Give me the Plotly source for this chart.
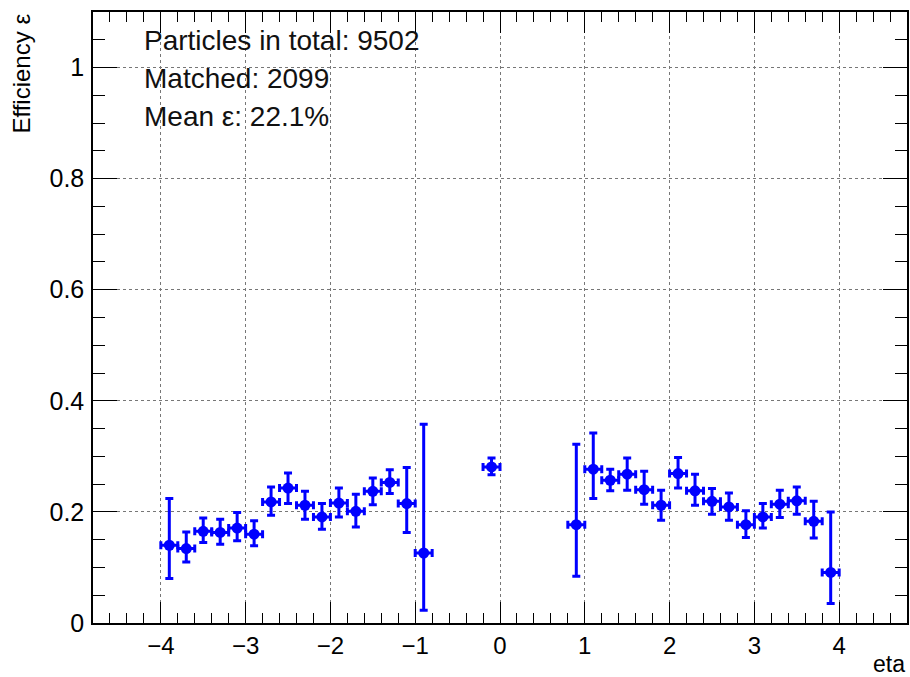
import plotly.graph_objects as go

# eta bin centres (bin width 0.2); empty bins left out
eta = [-3.9, -3.7, -3.5, -3.3, -3.1, -2.9, -2.7, -2.5, -2.3, -2.1,
       -1.9, -1.7, -1.5, -1.3, -1.1, -0.9, -0.1,
       0.9, 1.1, 1.3, 1.5, 1.7, 1.9, 2.1, 2.3, 2.5, 2.7,
       2.9, 3.1, 3.3, 3.5, 3.7, 3.9]
eff = [0.140, 0.134, 0.165, 0.163, 0.171, 0.160, 0.218, 0.243, 0.212, 0.191,
       0.216, 0.201, 0.237, 0.253, 0.215, 0.126, 0.281,
       0.177, 0.277, 0.257, 0.268, 0.240, 0.212, 0.269, 0.238, 0.219, 0.209,
       0.177, 0.191, 0.214, 0.220, 0.183, 0.091]
eff_hi = [0.224, 0.164, 0.189, 0.187, 0.199, 0.184, 0.245, 0.270, 0.237, 0.215,
          0.243, 0.232, 0.261, 0.276, 0.280, 0.358, 0.297,
          0.322, 0.342, 0.277, 0.297, 0.273, 0.239, 0.298, 0.268, 0.242, 0.234,
          0.202, 0.215, 0.239, 0.245, 0.219, 0.200]
eff_lo = [0.080, 0.110, 0.145, 0.142, 0.148, 0.139, 0.194, 0.215, 0.187, 0.169,
          0.191, 0.173, 0.213, 0.233, 0.163, 0.023, 0.267,
          0.084, 0.224, 0.238, 0.239, 0.214, 0.185, 0.243, 0.212, 0.196, 0.185,
          0.154, 0.171, 0.190, 0.196, 0.153, 0.035]
half_bin = [0.1] * len(eta)

info_lines = ["Particles in total: 9502", "Matched: 2099", "Mean \u03b5: 22.1%"]

FONT = "Liberation Sans, Arial, Helvetica, sans-serif"
BLUE = "#0000ff"

fig = go.Figure()
fig.add_trace(go.Scatter(
    x=eta, y=eff, mode="markers",
    marker=dict(color=BLUE, size=11, symbol="circle"),
    error_y=dict(type="data", symmetric=False,
                 array=[h - v for h, v in zip(eff_hi, eff)],
                 arrayminus=[v - l for v, l in zip(eff, eff_lo)],
                 color=BLUE, thickness=3, width=4),
    error_x=dict(type="data", array=half_bin, color=BLUE, thickness=3, width=4),
    showlegend=False,
))

axis_common = dict(
    showline=True, linecolor="black", linewidth=1.5, mirror="ticks",
    ticks="inside", tickcolor="black", tickwidth=1.2,
    showgrid=True, gridcolor="#777777", griddash="dot", gridwidth=1,
    zeroline=False,
)

fig.update_xaxes(
    range=[-4.8, 4.8], dtick=1, tick0=0, ticklen=21,
    minor=dict(ticks="inside", dtick=0.2, ticklen=10, tickcolor="black", showgrid=False),
    tickformat="d", ticklabelstandoff=0,
    tickfont=dict(family=FONT, size=24, color="black"),
    **axis_common,
)
fig.update_yaxes(
    range=[0, 1.1], tickvals=[0, 0.2, 0.4, 0.6, 0.8, 1],
    ticktext=["0", "0.2", "0.4", "0.6", "0.8", "1"], ticklen=24,
    minor=dict(ticks="inside", dtick=0.05, tick0=0, ticklen=12, tickcolor="black", showgrid=False),
    ticklabelstandoff=2,
    tickfont=dict(family=FONT, size=25, color="black"),
    **axis_common,
)

annotations = [
    dict(text="Efficiency \u03b5", xref="paper", yref="paper", x=-0.089, y=1.0,
         xanchor="center", yanchor="top", textangle=-90, showarrow=False,
         font=dict(family=FONT, size=24, color="black")),
    dict(text="eta", xref="paper", yref="paper", x=1.0, y=-0.042,
         xanchor="right", yanchor="top", showarrow=False,
         font=dict(family=FONT, size=23, color="black")),
]
for i, line in enumerate(info_lines):
    annotations.append(dict(
        text=line, xref="paper", yref="paper", x=0.0605, y=0.954 - i * 0.0622,
        xanchor="left", yanchor="middle", showarrow=False,
        font=dict(family=FONT, size=28, color="#111111"),
    ))

fig.update_layout(
    width=910, height=677,
    margin=dict(l=93, r=1, t=12, b=54),
    paper_bgcolor="white", plot_bgcolor="white",
    font=dict(family=FONT, color="black"),
    annotations=annotations,
)

# the page body has a default 8px margin; drop it so the figure sits at 0,0
fig.write_html("out.html", config={"displayModeBar": False},
               post_script="document.body.style.margin='0px';")
